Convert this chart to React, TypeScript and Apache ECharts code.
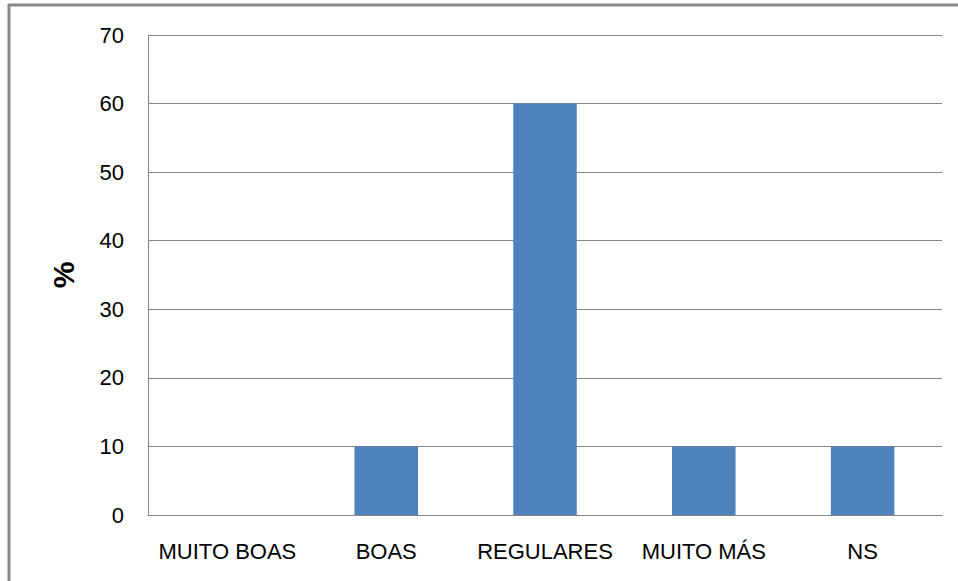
import React, { useEffect, useRef } from "react";
import * as echarts from "echarts";

const categories = ["MUITO BOAS", "BOAS", "REGULARES", "MUITO MÁS", "NS"];
const values = [0, 10, 60, 10, 10];
const yTicks = { min: 0, max: 70, interval: 10 };

export default function App() {
  const ref = useRef<HTMLDivElement>(null);
  useEffect(() => {
    if (!ref.current) return;
    const chart = echarts.init(ref.current, null, { renderer: "svg" });
    const font = "'Liberation Sans', Arial, sans-serif";
    chart.setOption({
      animation: false,
      backgroundColor: "#ffffff",
      grid: { left: 148, top: 35, right: 16, bottom: 66, containLabel: false },
      xAxis: {
        type: "category",
        data: categories,
        axisLine: { show: true, lineStyle: { color: "#868686", width: 1 } },
        axisTick: { show: false },
        axisLabel: { color: "#000", fontFamily: font, fontSize: 22, margin: 25, interval: 0 },
        splitLine: { show: false },
      },
      yAxis: {
        type: "value",
        min: yTicks.min,
        max: yTicks.max,
        interval: yTicks.interval,
        name: "%",
        nameLocation: "middle",
        nameGap: 70,
        nameRotate: 90,
        nameTextStyle: { color: "#000", fontFamily: font, fontSize: 30, fontWeight: "bold" },
        axisLine: { show: true, lineStyle: { color: "#868686", width: 1 } },
        axisTick: { show: false },
        axisLabel: { color: "#000", fontFamily: font, fontSize: 22, margin: 24 },
        splitLine: { show: true, lineStyle: { color: "#868686", width: 1 } },
      },
      series: [
        {
          type: "bar",
          data: values,
          barWidth: "40%",
          itemStyle: { color: "#4F81BD" },
        },
      ],
      graphic: [
        { type: "line", shape: { x1: 8, y1: 5, x2: 958, y2: 5 }, style: { stroke: "#898989", lineWidth: 3 } },
        { type: "line", shape: { x1: 9, y1: 4, x2: 9, y2: 581 }, style: { stroke: "#898989", lineWidth: 3 } },
      ],
    });
    return () => chart.dispose();
  }, []);
  return (
    <div
      ref={ref}
      style={{ position: "fixed", left: 0, top: 0, width: 958, height: 581 }}
    />
  );
}
